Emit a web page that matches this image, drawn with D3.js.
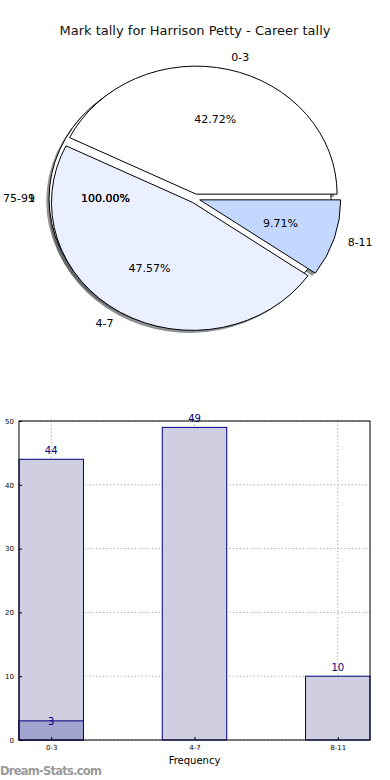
<!DOCTYPE html>
<html>
  <head>
    <meta charset="UTF-8" />
    <title>Mark tally - Harrison Petty</title>
    <script src="https://cdn.jsdelivr.net/npm/d3@7"></script>
    <style>
      body {
        margin: 0;
        background: #fff;
      }
      svg text {
        font-family: "DejaVu Sans", sans-serif;
      }
    </style>
  </head>
  <body>
    <div class="chart"></div>

    <script>
      // data
      let title = "Mark tally for Harrison Petty - Career tally";
      let categories = ["0-3", "4-7", "8-11"];
      let counts = [44, 49, 10];
      let highlight = [3, 0, 0]; // darker part at the foot of the bars
      let pieColors = ["#ffffff", "#eaf0ff", "#c4d8ff"];
      // second pie: one full wedge, two labels drawn on top of each other
      let extraLabels = ["75-99", "1"];
      let extraValues = [1];
      let yTicks = [0, 10, 20, 30, 40, 50];
      let xLabel = "Frequency";

      let width = 390;
      let height = 780;

      let svg = d3
        .select(".chart")
        .append("svg")
        .attr("width", width)
        .attr("height", height);

      svg
        .append("text")
        .attr("x", 195)
        .attr("y", 35)
        .attr("text-anchor", "middle")
        .attr("font-size", 13)
        .attr("fill", "#111")
        .text(title);

      // ---- pie ----
      let cx = 195;
      let cy = 198.5;
      let rx = 141;
      let ry = 128;
      let explode = 0.035;
      let shadowX = -0.02 * rx;
      let shadowY = 0.02 * ry;

      let pie = d3
        .pie()
        .sort(null)
        .startAngle(Math.PI / 2)
        .endAngle(Math.PI / 2 - 2 * Math.PI);

      let arc = d3.arc().innerRadius(0).outerRadius(ry);

      let total = d3.sum(counts);
      let slices = pie(counts);
      let extra = pie(extraValues);

      // where a wedge sits once exploded
      function origin(d) {
        let m = (d.startAngle + d.endAngle) / 2;
        return [cx + explode * rx * Math.sin(m), cy - explode * ry * Math.cos(m)];
      }
      function along(d, k) {
        let m = (d.startAngle + d.endAngle) / 2;
        let o = origin(d);
        return [o[0] + k * rx * Math.sin(m), o[1] - k * ry * Math.cos(m)];
      }

      function shade(c) {
        let col = d3.rgb(c);
        return d3.rgb(col.r * 0.3, col.g * 0.3, col.b * 0.3).toString();
      }

      function wedge(g, d, fill, opacity, dx, dy, stroke) {
        let o = origin(d);
        g.append("path")
          .attr(
            "transform",
            `translate(${o[0] + dx},${o[1] + dy}) scale(${rx / ry},1)`
          )
          .attr("d", arc(d))
          .attr("fill", fill)
          .attr("fill-opacity", opacity)
          .attr("stroke", stroke)
          .attr("stroke-width", 1)
          .attr("vector-effect", "non-scaling-stroke");
      }

      let pieG = svg.append("g");

      // draw order: extra pie shadow, main shadows, extra wedge, main wedges
      extra.forEach((d) => {
        wedge(pieG, d, shade("#fff"), 0.6, shadowX, shadowY, "none");
      });
      slices.forEach((d, i) => {
        wedge(pieG, d, shade(pieColors[i]), 0.6, shadowX, shadowY, "none");
      });
      extra.forEach((d) => {
        wedge(pieG, d, "#fff", 1, 0, 0, "#000");
      });
      slices.forEach((d, i) => {
        wedge(pieG, d, pieColors[i], 1, 0, 0, "#000");
      });

      function sideLabel(d, txt) {
        let p = along(d, 1.1);
        let m = (d.startAngle + d.endAngle) / 2;
        pieG
          .append("text")
          .attr("x", p[0])
          .attr("y", p[1])
          .attr("dy", "0.35em")
          .attr("text-anchor", Math.sin(m) > 0.0001 ? "start" : "end")
          .attr("font-size", 11)
          .text(txt);
      }
      function pctLabel(d, txt) {
        let p = along(d, 0.6);
        pieG
          .append("text")
          .attr("x", p[0])
          .attr("y", p[1])
          .attr("dy", "0.35em")
          .attr("text-anchor", "middle")
          .attr("font-size", 11)
          .text(txt);
      }

      extraLabels.forEach((lab) => {
        sideLabel(extra[0], lab);
        pctLabel(extra[0], "100.00%");
      });
      slices.forEach((d, i) => {
        sideLabel(d, categories[i]);
        pctLabel(d, ((counts[i] / total) * 100).toFixed(2) + "%");
      });

      // ---- bar chart ----
      let axLeft = 19;
      let axRight = 370;
      let axTop = 421;
      let axBottom = 740;
      let half = 0.225;

      let x = d3
        .scaleLinear()
        .domain([-half, categories.length - 1 + half])
        .range([axLeft, axRight]);
      let y = d3.scaleLinear().domain([0, 50]).range([axBottom, axTop]);

      let barG = svg.append("g");

      // dotted grid
      barG
        .selectAll(".hgrid")
        .data(yTicks)
        .enter()
        .append("line")
        .attr("x1", axLeft)
        .attr("x2", axRight)
        .attr("y1", (d) => y(d))
        .attr("y2", (d) => y(d))
        .attr("stroke", "#b0b0b0")
        .attr("stroke-dasharray", "1.5,2");
      barG
        .selectAll(".vgrid")
        .data(categories)
        .enter()
        .append("line")
        .attr("x1", (d, i) => x(i))
        .attr("x2", (d, i) => x(i))
        .attr("y1", axTop)
        .attr("y2", axBottom)
        .attr("stroke", "#b0b0b0")
        .attr("stroke-dasharray", "1.5,2");

      barG
        .selectAll(".bar")
        .data(counts)
        .enter()
        .append("rect")
        .attr("x", (d, i) => x(i - half))
        .attr("width", (d, i) => x(i + half) - x(i - half))
        .attr("y", (d) => y(d))
        .attr("height", (d) => y(0) - y(d))
        .attr("fill", "#ccccdf")
        .attr("fill-opacity", 0.95)
        .attr("stroke", "#000080")
        .attr("stroke-width", 1);

      highlight.forEach((d, i) => {
        if (d > 0) {
          barG
            .append("rect")
            .attr("x", x(i - half))
            .attr("width", x(i + half) - x(i - half))
            .attr("y", y(d))
            .attr("height", y(0) - y(d))
            .attr("fill", "#a3a3cf")
            .attr("stroke", "#000080")
            .attr("stroke-width", 1);
          barG
            .append("text")
            .attr("x", x(i))
            .attr("y", y(d) + 4)
            .attr("text-anchor", "middle")
            .attr("font-size", 10)
            .attr("fill", "#000080")
            .text(d);
        }
      });

      barG
        .selectAll(".val")
        .data(counts)
        .enter()
        .append("text")
        .attr("x", (d, i) => x(i))
        .attr("y", (d) => y(d) - 5)
        .attr("text-anchor", "middle")
        .attr("font-size", 10)
        .attr("fill", "#000080")
        .text((d) => d);

      // frame
      barG
        .append("rect")
        .attr("x", axLeft)
        .attr("y", axTop)
        .attr("width", axRight - axLeft)
        .attr("height", axBottom - axTop)
        .attr("fill", "none")
        .attr("stroke", "#000")
        .attr("stroke-width", 1);

      let yAxis = barG
        .append("g")
        .attr("transform", `translate(${axLeft},0)`)
        .call(d3.axisLeft(y).tickValues(yTicks).tickSize(-3).tickPadding(5));
      yAxis.select(".domain").remove();
      yAxis.selectAll("text").attr("font-size", 7).attr("font-family", "DejaVu Sans");

      let xAxis = barG
        .append("g")
        .attr("transform", `translate(0,${axBottom})`)
        .call(
          d3
            .axisBottom(x)
            .tickValues(d3.range(categories.length))
            .tickFormat((d) => categories[d])
            .tickSize(-3)
            .tickPadding(5)
        );
      xAxis.select(".domain").remove();
      xAxis.selectAll("text").attr("font-size", 7).attr("font-family", "DejaVu Sans");

      barG
        .append("text")
        .attr("x", (axLeft + axRight) / 2)
        .attr("y", 764)
        .attr("text-anchor", "middle")
        .attr("font-size", 10)
        .text(xLabel);

      svg
        .append("text")
        .attr("x", 0)
        .attr("y", 775)
        .attr("font-size", 11.5)
        .attr("font-weight", 600)
        .attr("fill", "#9a9a9a")
        .attr("textLength", 102)
        .text("Dream-Stats.com");
    </script>
  </body>
</html>
